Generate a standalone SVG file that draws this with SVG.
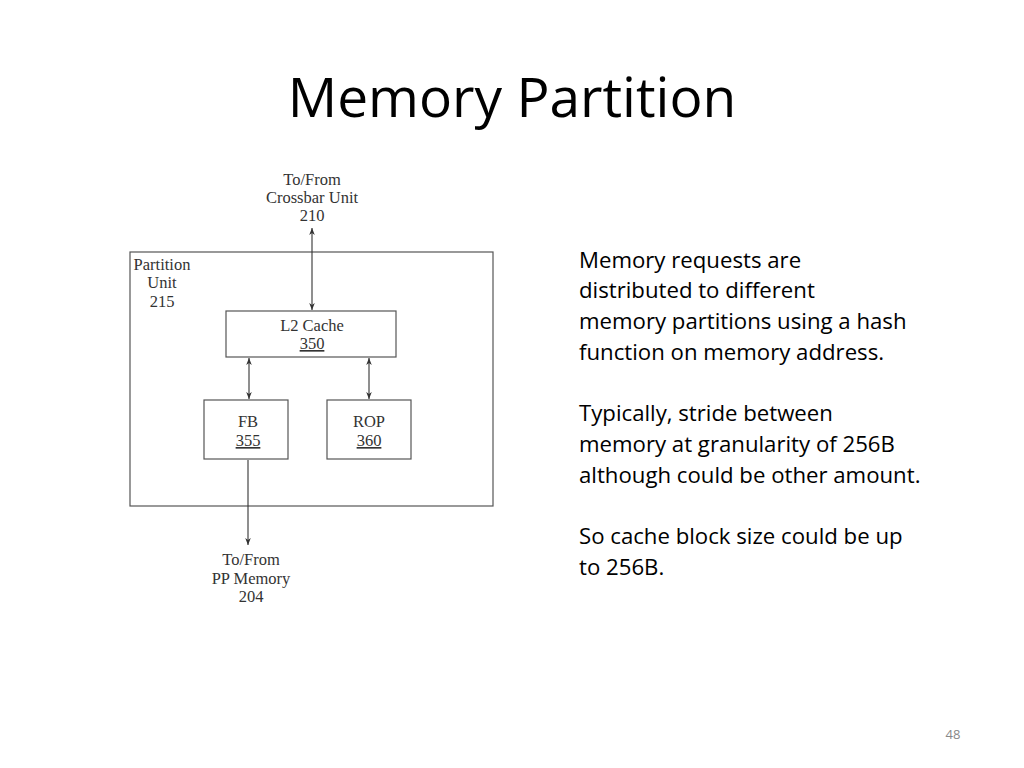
<svg xmlns="http://www.w3.org/2000/svg" width="1024" height="768" viewBox="0 0 1024 768">
<defs>
<style>
.box{fill:#fff;stroke:#555;stroke-width:1.2}
.lbl{font-family:"Liberation Serif",serif;font-size:16.5px;fill:#333;text-anchor:middle}
.body{font-family:"Open Sans","Noto Sans",sans-serif;font-size:22.2px;fill:#000}
.conn{stroke:#333;stroke-width:1.1;fill:none;marker-start:url(#ah);marker-end:url(#ah)}
</style>
<marker id="ah" viewBox="0 0 10 10" refX="10" refY="5" markerWidth="7" markerHeight="7" orient="auto-start-reverse" markerUnits="userSpaceOnUse">
<path d="M0,1 L10,5 L0,9 L3,5 Z" fill="#333"/>
</marker>
</defs>
<rect width="1024" height="768" fill="#fff"/>
<text x="512" y="117" font-family="'Open Sans','Noto Sans',sans-serif" font-size="55" text-anchor="middle" fill="#000">Memory Partition</text>

<g id="partition-unit">
<rect class="box" x="130" y="252" width="363" height="254"/>
<text class="lbl" x="162" y="270">Partition</text>
<text class="lbl" x="162" y="288">Unit</text>
<text class="lbl" x="162" y="307">215</text>
</g>
<g id="crossbar">
<text class="lbl" x="312" y="185">To/From</text>
<text class="lbl" x="312" y="203">Crossbar Unit</text>
<text class="lbl" x="312" y="221">210</text>
</g>
<g id="l2cache">
<rect class="box" x="226" y="311" width="170" height="46"/>
<text class="lbl" x="312" y="331">L2 Cache</text>
<text class="lbl" x="312" y="349" text-decoration="underline">350</text>
</g>
<g id="fb">
<rect class="box" x="204" y="400" width="84" height="59"/>
<text class="lbl" x="248" y="427">FB</text>
<text class="lbl" x="248" y="446" text-decoration="underline">355</text>
</g>
<g id="rop">
<rect class="box" x="327" y="400" width="84" height="59"/>
<text class="lbl" x="369" y="427">ROP</text>
<text class="lbl" x="369" y="446" text-decoration="underline">360</text>
</g>
<g id="ppmemory">
<text class="lbl" x="251" y="565">To/From</text>
<text class="lbl" x="251" y="584">PP Memory</text>
<text class="lbl" x="251" y="602">204</text>
</g>
<g id="connectors">
<line class="conn" x1="312" y1="228" x2="312" y2="310"/>
<line class="conn" x1="249" y1="358" x2="249" y2="399"/>
<line class="conn" x1="369" y1="358" x2="369" y2="399"/>
<line x1="248" y1="460" x2="248" y2="545" stroke="#333" stroke-width="1.1" marker-end="url(#ah)"/>
</g>

<g id="notes" class="body">
<text x="579" y="268">Memory requests are</text>
<text x="579" y="298">distributed to different</text>
<text x="579" y="329">memory partitions using a hash</text>
<text x="579" y="360">function on memory address.</text>
<text x="579" y="421">Typically, stride between</text>
<text x="579" y="452">memory at granularity of 256B</text>
<text x="579" y="483">although could be other amount.</text>
<text x="579" y="544">So cache block size could be up</text>
<text x="579" y="575">to 256B.</text>
</g>
<text x="953" y="739" font-family="'Open Sans','Noto Sans',sans-serif" font-size="13" fill="#888" text-anchor="middle">48</text>
</svg>
